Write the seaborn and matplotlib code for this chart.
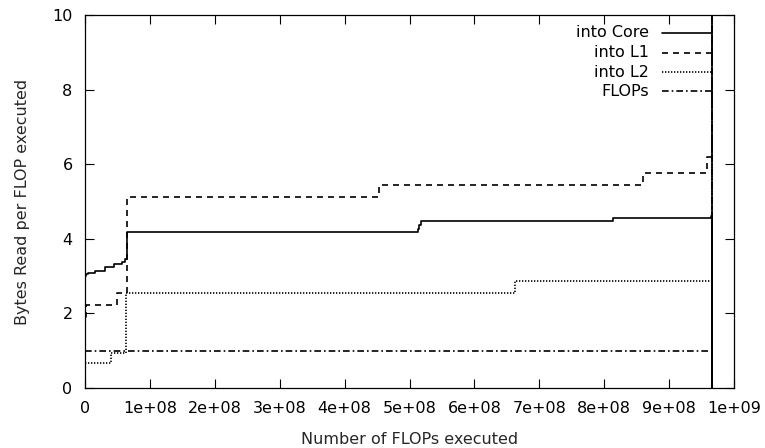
import numpy as np
import pandas as pd
import matplotlib
matplotlib.use("Agg")
import matplotlib.pyplot as plt
import seaborn as sns

# Cumulative FLOP counts (step positions) and bytes read per FLOP for each level
core_x = [0.0, 0.02e8, 0.05e8, 0.15e8, 0.31e8, 0.44e8, 0.57e8, 0.62e8, 0.64e8,
          5.13e8, 5.15e8, 5.17e8, 8.13e8, 9.64e8, 9.66e8, 9.66e8]
core_y = [3.00, 3.05, 3.09, 3.15, 3.24, 3.32, 3.39, 3.45, 4.17,
          4.25, 4.38, 4.48, 4.56, 4.60, 0.0, 40.0]

l1_x = [0.0, 0.02e8, 0.50e8, 0.64e8, 4.53e8, 8.60e8, 9.58e8, 9.66e8]
l1_y = [1.90, 2.22, 2.55, 5.13, 5.44, 5.76, 6.20, 40.0]

l2_x = [0.0, 0.40e8, 0.63e8, 6.63e8, 9.66e8]
l2_y = [0.66, 0.95, 2.56, 2.88, 40.0]

flops_x = [0.0, 9.66e8]
flops_y = [1.00, 40.0]

series_names = ["into Core", "into L1", "into L2", "FLOPs"]
x_ticks = [i * 1e8 for i in range(11)]
x_tick_labels = ["0", "1e+08", "2e+08", "3e+08", "4e+08", "5e+08",
                 "6e+08", "7e+08", "8e+08", "9e+08", "1e+09"]
y_ticks = [0, 2, 4, 6, 8, 10]

sns.set_style("ticks")
plt.rcParams["font.family"] = ["DejaVu Sans"]
plt.rcParams["font.size"] = 11.5

fig = plt.figure(figsize=(7.65, 4.48), dpi=100)
ax = fig.add_axes([85 / 765, 60 / 448, 649 / 765, 373 / 448])

styles = {
    "into Core": dict(linestyle="-"),
    "into L1": dict(linestyle=(0, (3.6, 3.0))),
    "into L2": dict(linestyle=(0, (0.8, 1.0))),
    "FLOPs": dict(linestyle=(0, (4.0, 1.8, 1.0, 1.8))),
}
data = {
    "into Core": (core_x, core_y),
    "into L1": (l1_x, l1_y),
    "into L2": (l2_x, l2_y),
    "FLOPs": (flops_x, flops_y),
}

lw = 1.2
for name in series_names:
    xs, ys = data[name]
    df = pd.DataFrame({"flops": xs, "bpf": ys})
    sns.lineplot(data=df, x="flops", y="bpf", ax=ax, estimator=None, sort=False,
                 color="black", linewidth=lw, drawstyle="steps-post",
                 **styles[name])

ax.set_xlim(0, 1e9)
ax.set_ylim(0, 10)
ax.set_xticks(x_ticks)
ax.set_xticklabels(x_tick_labels)
ax.set_yticks(y_ticks)
ax.set_yticklabels([str(v) for v in y_ticks])
ax.tick_params(direction="in", length=6.5, width=0.8, top=True, right=True,
               labelsize=11.5, colors="black")
ax.tick_params(axis="x", pad=9)
ax.tick_params(axis="y", pad=9)
for sp in ax.spines.values():
    sp.set_visible(True)
    sp.set_linewidth(0.9)
    sp.set_color("black")

ax.set_xlabel("Number of FLOPs executed", fontsize=11.5, labelpad=12)
ax.set_ylabel("Bytes Read per FLOP executed", fontsize=11.5, labelpad=16)

# Key in the upper right: right-aligned text followed by a line sample
key_rows = [0.952, 0.899, 0.847, 0.796]
for name, yk in zip(series_names, key_rows):
    ax.text(0.869, yk, name, transform=ax.transAxes, ha="right", va="center",
            fontsize=11.5, color="black")
    ax.plot([0.889, 0.966], [yk, yk], transform=ax.transAxes, color="black",
            linewidth=lw, **styles[name])

fig.savefig("out.png", dpi=100)
